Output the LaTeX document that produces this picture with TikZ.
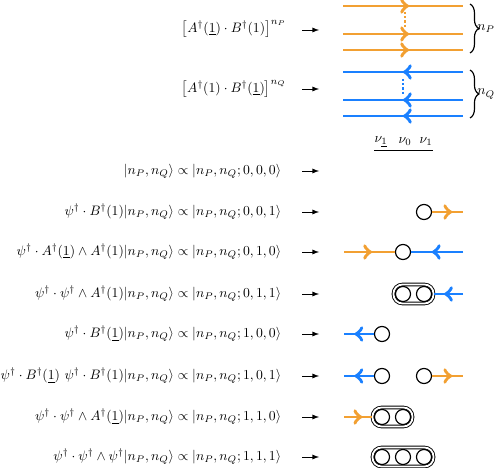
\documentclass[tikz,border=0pt]{standalone}
\usepackage{amsfonts, amssymb}
\usepackage{amsmath}
\usetikzlibrary{arrows,positioning,fit,decorations.markings,decorations.pathreplacing}

\definecolor{porange}{RGB}{242,160,50}
\definecolor{qblue}{RGB}{26,128,255}

\tikzset{
	vert/.style={circle, draw, line width=0.85pt, minimum size=11pt, inner sep=0pt, fill=white},
	pill/.style={rectangle, draw, double, double distance=1.3pt, line width=0.65pt, rounded corners=6.5pt, inner sep=1pt},
	pline/.style={porange, line width=2pt, postaction={decorate, decoration={markings, mark=at position #1 with {\arrow[scale=1.3]{>}}}}},
	qline/.style={qblue, line width=2pt, postaction={decorate, decoration={markings, mark=at position #1 with {\arrow[scale=1.3]{>}}}}},
	maps/.style={-latex, line width=0.65pt},
	cbrace/.style={decorate, decoration={brace, amplitude=6.5pt}, line width=0.85pt}
}

\begin{document}
\begin{tikzpicture}[x=0.73pt, y=-0.73pt]
				\useasboundingbox (0,0) rectangle (498,468);
				
				% strands
				\foreach \y [count=\i] in {6,34,50} {
					\coordinate (pl\i) at (343,\y);
					\coordinate (pr\i) at (463,\y);
					\draw[pline=.55] (pl\i) -- (pr\i);
				}
				\foreach \y [count=\i] in {72,100,116} {
					\coordinate (ql\i) at (343,\y);
					\coordinate (qr\i) at (463,\y);
					\draw[qline=.5] (qr\i) -- (ql\i);
				}
				\coordinate (pd1) at (405,12); \coordinate (pd2) at (405,28);
				\coordinate (qd1) at (403,79); \coordinate (qd2) at (403,94);
				\draw[porange, line width=1.5pt, dash pattern=on 1.5pt off 1.6pt] (pd1) -- (pd2);
				\draw[qblue, line width=1.5pt, dash pattern=on 1.5pt off 1.6pt] (qd1) -- (qd2);
				
				\coordinate (bp1) at (470,4); \coordinate (bp2) at (470,53);
				\coordinate (bq1) at (470,70); \coordinate (bq2) at (470,118);
				\draw[cbrace] (bp1) -- (bp2) node[midway, right=5pt, inner sep=0pt] {$n_P$};
				\draw[cbrace] (bq1) -- (bq2) node[midway, right=5pt, inner sep=0pt] {$n_Q$};
				
				\node[anchor=east] (fP) at (291,29) {$\bigl[A^\dagger(\underline{1})\cdot B^\dagger(1)\bigr]^{n_P}$};
				\node[anchor=east] (fQ) at (291,89) {$\bigl[A^\dagger(1)\cdot B^\dagger(\underline{1})\bigr]^{n_Q}$};
				\coordinate (aP) at (302,30); \coordinate (bP) at (319,30);
				\coordinate (aQ) at (302,89); \coordinate (bQ) at (319,89);
				\draw[maps] (aP) -- (bP);
				\draw[maps] (aQ) -- (bQ);
				
				% sites
				\node (nub) at (381,142) {$\nu_{\underline{1}}$};
				\node (nu0) at (405,142) {$\nu_0$};
				\node (nu1) at (426,142) {$\nu_1$};
				\coordinate (ul1) at (374,150); \coordinate (ul2) at (433,150);
				\draw[line width=0.65pt] (ul1) -- (ul2);
				
				% states
				\foreach \y/\txt [count=\i] in {
					171/{$|n_P,n_Q\rangle \propto |n_P,n_Q;0,0,0\rangle$},
					212/{$\psi^\dagger\cdot B^\dagger(1)|n_P,n_Q\rangle \propto |n_P,n_Q;0,0,1\rangle$},
					252/{$\psi^\dagger\cdot A^\dagger(\underline{1})\wedge A^\dagger(1)|n_P,n_Q\rangle \propto |n_P,n_Q;0,1,0\rangle$},
					294/{$\psi^\dagger\cdot \psi^\dagger\wedge A^\dagger(1)|n_P,n_Q\rangle \propto |n_P,n_Q;0,1,1\rangle$},
					334/{$\psi^\dagger\cdot B^\dagger(\underline{1})|n_P,n_Q\rangle \propto |n_P,n_Q;1,0,0\rangle$},
					376/{$\psi^\dagger\cdot B^\dagger(\underline{1})\ \psi^\dagger\cdot B^\dagger(1)|n_P,n_Q\rangle \propto |n_P,n_Q;1,0,1\rangle$},
					417/{$\psi^\dagger\cdot \psi^\dagger\wedge A^\dagger(\underline{1})|n_P,n_Q\rangle \propto |n_P,n_Q;1,1,0\rangle$},
					457/{$\psi^\dagger\cdot \psi^\dagger\wedge \psi^\dagger|n_P,n_Q\rangle \propto |n_P,n_Q;1,1,1\rangle$}} {
					\node[anchor=east] (s\i) at (286,\y) {\txt};
					\coordinate (a\i) at (302,\y);
					\coordinate (b\i) at (319,\y);
					\draw[maps] (a\i) -- (b\i);
				}
				
				% 0,0,1
				\node[vert] (c2) at (424,212) {};
				\coordinate (e2) at (463,212);
				\draw[pline=.65] (c2) -- (e2);
				% 0,1,0
				\node[vert] (c3) at (403,252) {};
				\coordinate (w3) at (344,252); \coordinate (e3) at (463,252);
				\draw[pline=.55] (w3) -- (c3);
				\draw[qline=.6] (e3) -- (c3);
				% 0,1,1
				\node[vert] (c4a) at (403,294) {};
				\node[vert] (c4b) at (424,294) {};
				\node[pill, fit=(c4a)(c4b)] (box4) {};
				\coordinate (e4) at (463,294);
				\draw[qline=.65] (e4) -- (box4);
				% 1,0,0
				\node[vert] (c5) at (382,334) {};
				\coordinate (w5) at (344,334);
				\draw[qline=.65] (c5) -- (w5);
				% 1,0,1
				\node[vert] (c6a) at (382,376) {};
				\node[vert] (c6b) at (424,376) {};
				\coordinate (w6) at (344,376); \coordinate (e6) at (463,376);
				\draw[qline=.65] (c6a) -- (w6);
				\draw[pline=.65] (c6b) -- (e6);
				% 1,1,0
				\node[vert] (c7a) at (382,417) {};
				\node[vert] (c7b) at (403,417) {};
				\node[pill, fit=(c7a)(c7b)] (box7) {};
				\coordinate (w7) at (344,417);
				\draw[pline=.65] (w7) -- (box7);
				% 1,1,1
				\node[vert] (c8a) at (382,457) {};
				\node[vert] (c8b) at (403,457) {};
				\node[vert] (c8c) at (424,457) {};
				\node[pill, fit=(c8a)(c8c)] (box8) {};
\end{tikzpicture}
\end{document}
